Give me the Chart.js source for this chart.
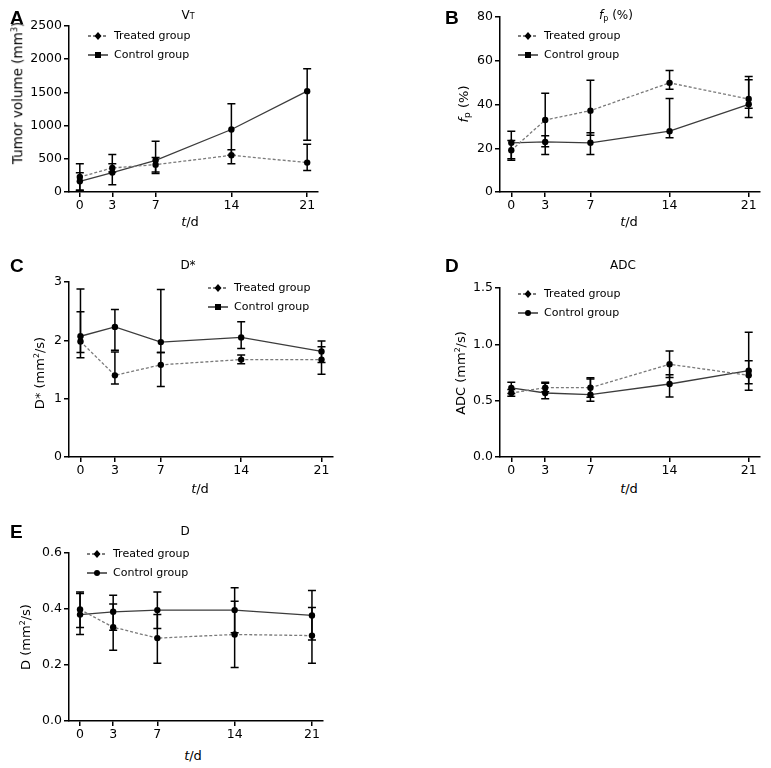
<!DOCTYPE html>
<html>
<head>
<meta charset="utf-8">
<script src="https://cdn.jsdelivr.net/npm/chart.js@4.4.1/dist/chart.umd.min.js"></script>
<style>
  html, body { margin: 0; padding: 0; background: #fff; }
  body { width: 771px; height: 768px; position: relative; overflow: hidden; font-family: "DejaVu Sans", sans-serif; color: #000; }
  canvas { position: absolute; }
  .t { position: absolute; white-space: nowrap; line-height: 1; color: #000; }
  .letter { font-family: "Liberation Sans", Arial, sans-serif; font-weight: bold; font-size: 19px; transform: translate(0, -50%); }
  .title { font-size: 12px; transform: translate(-50%, -50%); }
  .ytitle { font-size: 13px; transform: translate(-50%, -50%) rotate(-90deg); }
  .xtitle { font-size: 13px; transform: translate(-50%, -50%); }
  sup { font-size: 0.6em; vertical-align: 0.6em; line-height: 0; }
</style>
</head>
<body>
<canvas id="cA"></canvas>
<canvas id="cB"></canvas>
<canvas id="cC"></canvas>
<canvas id="cD"></canvas>
<canvas id="cE"></canvas>

<div class="t letter" style="left:10px;top:17px">A</div>
<div class="t letter" style="left:445px;top:17px">B</div>
<div class="t letter" style="left:10px;top:265px">C</div>
<div class="t letter" style="left:445px;top:265px">D</div>
<div class="t letter" style="left:10px;top:531px">E</div>

<div class="t title" style="left:188px;top:15px">V<span style="font-size:8px">T</span></div>
<div class="t title" style="left:616px;top:15px"><i>f</i><span style="font-size:8px;position:relative;top:2px">p</span> (%)</div>
<div class="t title" style="left:188px;top:265px">D*</div>
<div class="t title" style="left:623px;top:265px">ADC</div>
<div class="t title" style="left:185px;top:531px">D</div>

<div class="t ytitle" style="left:18px;top:93px;font-size:13.5px">Tumor volume (mm<sup>3</sup>)</div>
<div class="t ytitle" style="left:463px;top:104px"><i>f</i><span style="font-size:9px;position:relative;top:2px">p</span> (%)</div>
<div class="t ytitle" style="left:39px;top:373px">D* (mm<sup>2</sup>/s)</div>
<div class="t ytitle" style="left:460px;top:373px">ADC (mm<sup>2</sup>/s)</div>
<div class="t ytitle" style="left:25px;top:637px">D (mm<sup>2</sup>/s)</div>

<div class="t xtitle" style="left:190px;top:221px"><i>t</i>/d</div>
<div class="t xtitle" style="left:629px;top:221px"><i>t</i>/d</div>
<div class="t xtitle" style="left:200px;top:488px"><i>t</i>/d</div>
<div class="t xtitle" style="left:629px;top:488px"><i>t</i>/d</div>
<div class="t xtitle" style="left:193px;top:755px"><i>t</i>/d</div>

<script>
// ---------------- DATA ----------------
const days = [0, 3, 7, 14, 21];
const seriesNames = ["Treated group", "Control group"];

// A: tumor volume (mm3)
const vtTicks = [0, 500, 1000, 1500, 2000, 2500];
const vtTreated   = [226, 362, 412, 553, 443];
const vtTreatedLo = [20, 300, 277, 427, 322];
const vtTreatedHi = [427, 563, 520, 638, 720];
const vtControl   = [161, 292, 478, 941, 1519];
const vtControlLo = [31, 111, 300, 553, 780];
const vtControlHi = [291, 427, 765, 1328, 1856];

// B: fp (%)
const fpTicks = [0, 20, 40, 60, 80];
const fpTreated   = [19.1, 32.9, 37.2, 49.9, 42.5];
const fpTreatedLo = [14.5, 20.7, 26.0, 47.0, 38.3];
const fpTreatedHi = [23.5, 45.1, 51.1, 55.5, 52.8];
const fpControl   = [22.5, 22.9, 22.5, 27.8, 40.1];
const fpControlLo = [15.2, 17.1, 17.1, 24.8, 34.1];
const fpControlHi = [27.8, 25.7, 27.1, 42.8, 51.3];

// C: D* (mm2/s)
const dsTicks = [0, 1, 2, 3];
const dsTreated   = [1.98, 1.40, 1.58, 1.67, 1.67];
const dsTreatedLo = [1.79, 1.25, 1.21, 1.60, 1.42];
const dsTreatedHi = [2.49, 1.80, 1.79, 1.75, 1.89];
const dsControl   = [2.07, 2.23, 1.97, 2.05, 1.81];
const dsControlLo = [1.70, 1.83, 1.79, 1.86, 1.62];
const dsControlHi = [2.88, 2.53, 2.87, 2.32, 1.99];

// D: ADC (mm2/s)
const adcTicks = [0.0, 0.5, 1.0, 1.5];
const adcTreated   = [0.568, 0.615, 0.615, 0.823, 0.725];
const adcTreatedLo = [0.540, 0.580, 0.530, 0.705, 0.592];
const adcTreatedHi = [0.600, 0.654, 0.704, 0.941, 0.855];
const adcControl   = [0.613, 0.568, 0.553, 0.648, 0.766];
const adcControlLo = [0.563, 0.518, 0.494, 0.533, 0.651];
const adcControlHi = [0.663, 0.663, 0.692, 0.731, 1.107];

// E: D (mm2/s)
const dTicks = [0.0, 0.2, 0.4, 0.6];
const dTreated   = [0.398, 0.335, 0.296, 0.309, 0.305];
const dTreatedLo = [0.334, 0.253, 0.206, 0.191, 0.206];
const dTreatedHi = [0.461, 0.418, 0.380, 0.428, 0.405];
const dControl   = [0.380, 0.390, 0.396, 0.396, 0.377];
const dControlLo = [0.309, 0.324, 0.330, 0.315, 0.289];
const dControlHi = [0.455, 0.449, 0.461, 0.476, 0.466];

// ---------------- PLUGINS ----------------
const errorBarPlugin = {
  id: 'errorBars',
  beforeDatasetsDraw(chart) {
    const ctx = chart.ctx, xs = chart.scales.x, ys = chart.scales.y;
    ctx.save();
    ctx.strokeStyle = '#000';
    ctx.lineWidth = 1.5;
    chart.data.datasets.forEach(ds => {
      ds.data.forEach((p, i) => {
        const x = xs.getPixelForValue(p.x);
        const yl = ys.getPixelForValue(ds.errLo[i]);
        const yh = ys.getPixelForValue(ds.errHi[i]);
        ctx.beginPath();
        ctx.moveTo(x, yl); ctx.lineTo(x, yh);
        ctx.moveTo(x - 4, yl); ctx.lineTo(x + 4, yl);
        ctx.moveTo(x - 4, yh); ctx.lineTo(x + 4, yh);
        ctx.stroke();
      });
    });
    ctx.restore();
  }
};

const legendPlugin = {
  id: 'customLegend',
  afterDraw(chart) {
    const o = chart.options.plugins.customLegend;
    if (!o) return;
    const ctx = chart.ctx;
    ctx.save();
    chart.data.datasets.forEach((ds, i) => {
      const y = o.y + i * o.dy;
      const x1 = o.x, x2 = o.x + 20, xm = o.x + 10;
      ctx.strokeStyle = '#000';
      ctx.lineWidth = 1.2;
      ctx.setLineDash(i === 0 ? [3, 2] : []);
      ctx.beginPath(); ctx.moveTo(x1, y); ctx.lineTo(x2, y); ctx.stroke();
      ctx.setLineDash([]);
      ctx.fillStyle = '#000';
      ctx.beginPath();
      if (i === 0) {
        ctx.moveTo(xm, y - 4); ctx.lineTo(xm + 3.5, y); ctx.lineTo(xm, y + 4); ctx.lineTo(xm - 3.5, y);
        ctx.closePath();
      } else if (o.circle) {
        ctx.arc(xm, y, 3, 0, Math.PI * 2);
      } else {
        ctx.rect(xm - 3, y - 3, 6, 6);
      }
      ctx.fill();
      ctx.font = '11px "DejaVu Sans"';
      ctx.textBaseline = 'middle';
      ctx.textAlign = 'left';
      ctx.fillText(ds.label, x1 + 26, y + 0.5);
    });
    ctx.restore();
  }
};

// ---------------- BUILDER ----------------
function makePanel(id, rect, area, yTicks, fmt, treated, tLo, tHi, control, cLo, cHi, legend) {
  const cv = document.getElementById(id);
  cv.width = rect.w; cv.height = rect.h;
  cv.style.left = rect.x + 'px'; cv.style.top = rect.y + 'px';
  cv.style.width = rect.w + 'px'; cv.style.height = rect.h + 'px';
  const yW = area.left - rect.x;
  const xH = rect.y + rect.h - area.bottom;
  const lg = { x: legend.x - rect.x, y: legend.y - rect.y, dy: legend.dy, circle: legend.circle };
  const pts = arr => days.map((d, i) => ({ x: d, y: arr[i] }));
  const axisCommon = {
    border: { display: true, color: '#000', width: 1.5 },
    grid: { display: true, drawOnChartArea: false, drawTicks: true, tickLength: 5, color: '#000', lineWidth: 1.5 },
    ticks: { color: '#000', font: { family: 'DejaVu Sans', size: 12.5 }, autoSkip: false, maxRotation: 0 }
  };
  new Chart(cv, {
    type: 'line',
    data: {
      datasets: [
        { label: seriesNames[0], data: pts(treated), errLo: tLo, errHi: tHi,
          borderColor: '#7a7a7a', borderWidth: 1.3, borderDash: [3, 2],
          pointRadius: 3.2, pointBackgroundColor: '#000', pointBorderColor: '#000', pointBorderWidth: 0, tension: 0 },
        { label: seriesNames[1], data: pts(control), errLo: cLo, errHi: cHi,
          borderColor: '#3c3c3c', borderWidth: 1.3,
          pointRadius: 3.2, pointBackgroundColor: '#000', pointBorderColor: '#000', pointBorderWidth: 0, tension: 0 }
      ]
    },
    options: {
      responsive: false, animation: false, devicePixelRatio: 1,
      layout: { padding: { left: 0, top: area.top - rect.y, right: rect.x + rect.w - area.right, bottom: 0 } },
      plugins: { legend: { display: false }, tooltip: { enabled: false }, customLegend: lg },
      scales: {
        x: Object.assign({}, axisCommon, {
          type: 'linear', min: -1, max: 22,
          afterBuildTicks: s => { s.ticks = days.map(v => ({ value: v })); },
          afterFit: s => { s.height = xH; },
          ticks: Object.assign({}, axisCommon.ticks, { padding: 1, callback: v => String(v) })
        }),
        y: Object.assign({}, axisCommon, {
          type: 'linear', min: yTicks[0], max: yTicks[yTicks.length - 1],
          afterBuildTicks: s => { s.ticks = yTicks.map(v => ({ value: v })); },
          afterFit: s => { s.width = yW; },
          ticks: Object.assign({}, axisCommon.ticks, { padding: 2, callback: v => fmt(v) })
        })
      }
    },
    plugins: [errorBarPlugin, legendPlugin]
  });
}

const intFmt = v => String(v);
const dec1 = v => v.toFixed(1);

makePanel('cA', { x: 0, y: 0, w: 385, h: 215 }, { left: 69, top: 26, bottom: 192, right: 318 },
  vtTicks, intFmt, vtTreated, vtTreatedLo, vtTreatedHi, vtControl, vtControlLo, vtControlHi,
  { x: 88, y: 36, dy: 19, circle: false });
makePanel('cB', { x: 385, y: 0, w: 386, h: 215 }, { left: 500, top: 17, bottom: 192, right: 760 },
  fpTicks, intFmt, fpTreated, fpTreatedLo, fpTreatedHi, fpControl, fpControlLo, fpControlHi,
  { x: 518, y: 36, dy: 19, circle: false });
makePanel('cC', { x: 0, y: 255, w: 385, h: 225 }, { left: 69, top: 282, bottom: 457, right: 333 },
  dsTicks, intFmt, dsTreated, dsTreatedLo, dsTreatedHi, dsControl, dsControlLo, dsControlHi,
  { x: 208, y: 288, dy: 19, circle: false });
makePanel('cD', { x: 385, y: 255, w: 386, h: 225 }, { left: 500, top: 288, bottom: 457, right: 760 },
  adcTicks, dec1, adcTreated, adcTreatedLo, adcTreatedHi, adcControl, adcControlLo, adcControlHi,
  { x: 518, y: 294, dy: 19, circle: true });
makePanel('cE', { x: 0, y: 510, w: 385, h: 235 }, { left: 69, top: 553, bottom: 721, right: 323 },
  dTicks, dec1, dTreated, dTreatedLo, dTreatedHi, dControl, dControlLo, dControlHi,
  { x: 87, y: 554, dy: 19, circle: true });
</script>
</body>
</html>
